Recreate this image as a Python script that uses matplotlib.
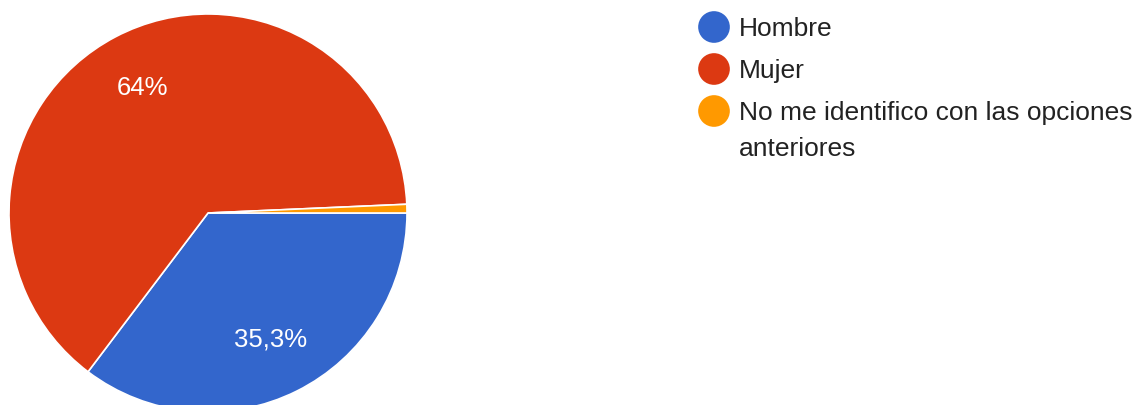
import matplotlib.pyplot as plt

labels = ["Hombre", "Mujer", "No me identifico con las opciones\nanteriores"]
values = [35.3, 64.0, 0.7]
colors = ["#3366cc", "#dc3912", "#ff9900"]

W, H = 1144, 405
FONT = "Liberation Sans"

fig = plt.figure(figsize=(W / 100, H / 100), dpi=100)
ax = fig.add_axes([0, 0, 1, 1])
ax.axis("off")


def pct_label(p):
    # small slices stay unlabelled, decimals use a comma
    if p < 5:
        return ""
    s = "%.1f" % p
    if s.endswith(".0"):
        s = s[:-2]
    return s.replace(".", ",") + "%"


ax.pie(
    values, colors=colors, startangle=0, counterclock=False,
    center=(208, H - 213), radius=199, autopct=pct_label, pctdistance=0.71,
    wedgeprops=dict(edgecolor="white", linewidth=1.2),
    textprops=dict(color="white", fontsize=18.5, family=FONT),
)
ax.set_xlim(0, W)
ax.set_ylim(0, H)

# legend on the right, one dot per entry, wrapped lines 37px apart
y = H - 27
for lab, c in zip(labels, colors):
    ax.scatter([714], [y], s=520, color=c, edgecolor="none")
    for i, line in enumerate(lab.split("\n")):
        ax.text(739, y - 9 - 36 * i, line, fontsize=19, family=FONT,
                color="#222222", va="baseline", ha="left")
    y -= 42

fig.savefig("out.png", dpi=100)
